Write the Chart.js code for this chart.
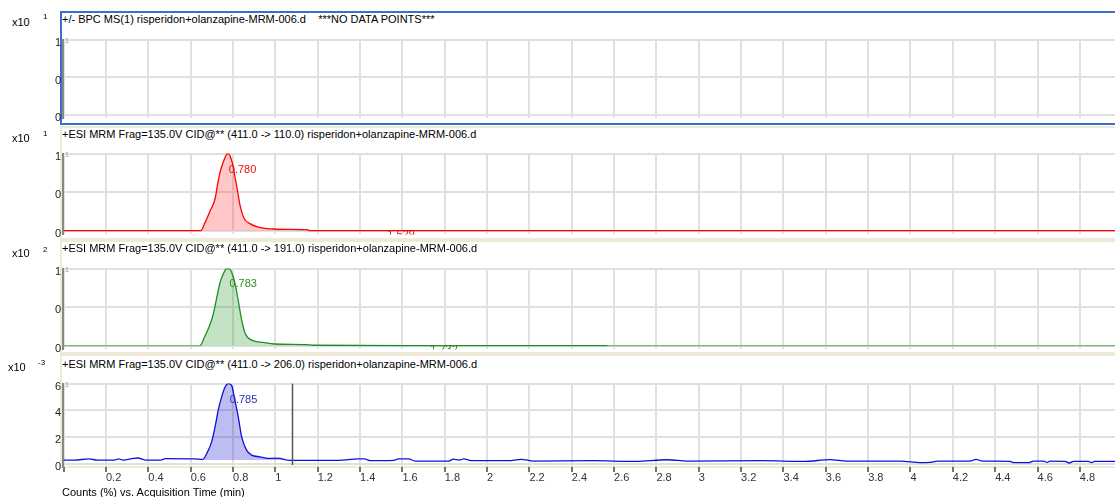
<!DOCTYPE html>
<html>
<head>
<meta charset="utf-8">
<script src="https://cdn.jsdelivr.net/npm/chart.js@4.4.1/dist/chart.umd.min.js"></script>
<style>
body { margin: 0; width: 1115px; height: 497px; background: #fff; position: relative; overflow: hidden;
       font-family: "Liberation Sans", Arial, sans-serif; color: #000; }
.box { position: absolute; left: 60px; width: 1070px; height: 114px; box-sizing: border-box;
       border: 2px solid #efe9d8; border-right: none; }
.sel { border-color: #3b6fcf; }
canvas { position: absolute; left: 0; z-index: 2; }
.txt { position: absolute; font-size: 11px; line-height: 12px; white-space: pre; z-index: 3; }
.exp { position: absolute; font-size: 8px; line-height: 10px; z-index: 3; }
.mark { position: absolute; left: 65px; font-size: 7px; line-height: 8px; color: #999; z-index: 3; }
</style>
</head>
<body>
<div class="box sel" style="top:11px"></div>
<div class="box" style="top:126px"></div>
<div class="box" style="top:240px"></div>
<div class="box" style="top:354px"></div>

<div class="txt" style="left:62px;top:13px">+/- BPC MS(1) risperidon+olanzapine-MRM-006.d    ***NO DATA POINTS***</div>
<div class="txt" style="left:62px;top:128px">+ESI MRM Frag=135.0V CID@** (411.0 -&gt; 110.0) risperidon+olanzapine-MRM-006.d</div>
<div class="txt" style="left:62px;top:242px">+ESI MRM Frag=135.0V CID@** (411.0 -&gt; 191.0) risperidon+olanzapine-MRM-006.d</div>
<div class="txt" style="left:62px;top:358px">+ESI MRM Frag=135.0V CID@** (411.0 -&gt; 206.0) risperidon+olanzapine-MRM-006.d</div>

<div class="txt" style="left:12px;top:16px">x10</div><div class="exp" style="left:43px;top:12px">1</div>
<div class="txt" style="left:12px;top:132px">x10</div><div class="exp" style="left:43px;top:129px">1</div>
<div class="txt" style="left:12px;top:247px">x10</div><div class="exp" style="left:43px;top:245px">2</div>
<div class="txt" style="left:8px;top:361px">x10</div><div class="exp" style="left:38px;top:358px">-3</div>

<div class="mark" style="top:37px">1</div>
<div class="mark" style="top:151px">1</div>
<div class="mark" style="top:266px">1</div>
<div class="mark" style="top:381px">1</div>

<canvas id="p1" width="1115" height="96" style="top:31px"></canvas>
<canvas id="p2" width="1115" height="98" style="top:145px"></canvas>
<canvas id="p3" width="1115" height="98" style="top:260px"></canvas>
<canvas id="p4" width="1115" height="116" style="top:375px"></canvas>

<div class="txt" style="left:62px;top:486px">Counts (%) vs. Acquisition Time (min)</div>

<script>
// acquisition time axis (min)
const xMin = -0.003;
const xMax = 4.966;
const timeTicks = [0, 0.2, 0.4, 0.6, 0.8, 1, 1.2, 1.4, 1.6, 1.8, 2, 2.2, 2.4, 2.6, 2.8,
                   3, 3.2, 3.4, 3.6, 3.8, 4, 4.2, 4.4, 4.6, 4.8];
const unitTicks = [0, 0.5, 1];
const blueTicks = [0, 2, 4, 6];

// 411.0 -> 110.0 (x10^1)
const redTime = [0, 0.648, 0.667, 0.691, 0.715, 0.726, 0.738, 0.754, 0.770, 0.778, 0.789, 0.801,
                 0.809, 0.820, 0.833, 0.852, 0.880, 0.919, 0.990, 1.05, 1.148, 1.163, 1.529, 4.966];
const redCounts = [0, 0, 0.10, 0.25, 0.41, 0.58, 0.75, 0.89, 0.99, 1.0, 0.95, 0.83,
                   0.70, 0.54, 0.33, 0.16, 0.09, 0.045, 0.02, 0.015, 0.012, 0, 0, 0];
const redPeaks = [0.780, 1.529];
const redPeakLevels = [0.79, -0.06];

// 411.0 -> 191.0 (x10^2)
const greenTime = [0, 0.644, 0.667, 0.691, 0.707, 0.723, 0.738, 0.754, 0.770, 0.781, 0.794, 0.809,
                   0.825, 0.841, 0.857, 0.888, 0.943, 0.998, 1.148, 1.179, 1.732, 2.57, 4.966];
const greenCounts = [0, 0, 0.12, 0.27, 0.41, 0.62, 0.81, 0.93, 1.0, 1.0, 0.95, 0.81,
                     0.58, 0.33, 0.16, 0.07, 0.04, 0.02, 0.012, 0.004, 0, 0, 0];
const greenPeaks = [0.783, 1.732];
const greenPeakLevels = [0.80, -0.055];

// 411.0 -> 206.0 (x10^-3)
const blueTime = [0, 0.05, 0.12, 0.16, 0.24, 0.26, 0.28, 0.33, 0.35, 0.39, 0.46, 0.48, 0.62,
                  0.657, 0.676, 0.699, 0.715, 0.730, 0.746, 0.762, 0.778, 0.794, 0.809, 0.825,
                  0.841, 0.864, 0.888, 0.927, 0.966, 0.998, 1.022, 1.053, 1.10, 1.30, 1.39,
                  1.42, 1.45, 1.56, 1.58, 1.63, 1.66, 1.82, 1.84, 1.87, 1.89, 1.93, 2.10,
                  2.16, 2.22, 2.50, 2.70, 2.85, 2.95, 3.30, 3.50, 3.62, 3.70, 3.95, 4.05,
                  4.09, 4.13, 4.28, 4.31, 4.34, 4.47, 4.49, 4.56, 4.58, 4.63, 4.645, 4.66,
                  4.73, 4.75, 4.77, 4.84, 4.855, 4.87, 4.966];
const blueCounts = [0.3, 0.3, 0.38, 0.3, 0.3, 0.38, 0.3, 0.42, 0.45, 0.3, 0.3, 0.4, 0.38,
                    0.35, 0.79, 1.65, 2.76, 4.0, 4.99, 5.73, 6.02, 5.85, 4.74, 3.5,
                    2.02, 1.04, 0.67, 0.54, 0.42, 0.44, 0.42, 0.30, 0.28, 0.28, 0.38,
                    0.38, 0.25, 0.28, 0.38, 0.38, 0.22, 0.22, 0.36, 0.3, 0.38, 0.25, 0.25,
                    0.35, 0.22, 0.25, 0.2, 0.32, 0.22, 0.25, 0.2, 0.33, 0.22, 0.22, 0.1,
                    0.12, 0.22, 0.22, 0.35, 0.22, 0.2, 0.1, 0.1, 0.22, 0.22, 0.12, 0.22,
                    0.2, 0.08, 0.2, 0.2, 0.1, 0.2, 0.2];
const bluePeaks = [0.785];
const bluePeakLevels = [4.8];
const cursorTime = 1.078;

const FONT = '"Liberation Sans", Arial, sans-serif';
const GRID = '#e0e0e0';

const toPoints = (xs, ys) => xs.map((t, i) => ({x: t, y: ys[i]}));

const peakLabels = {
    id: 'peakLabels',
    afterDatasetsDraw(chart, args, opts) {
        const {ctx, chartArea: a, scales: {x, y}} = chart;
        ctx.save();
        if (opts.cursor != null) {
            const cx = Math.round(x.getPixelForValue(opts.cursor)) + 0.5;
            ctx.strokeStyle = '#555';
            ctx.lineWidth = 1.5;
            ctx.beginPath();
            ctx.moveTo(cx, a.top);
            ctx.lineTo(cx, a.bottom - 2);
            ctx.stroke();
        }
        if (opts.times) {
            ctx.beginPath();
            ctx.rect(a.left, a.top - 8, a.right - a.left, a.bottom - a.top + 8);
            ctx.clip();
            ctx.font = '11px ' + FONT;
            ctx.fillStyle = opts.color;
            ctx.textBaseline = 'middle';
            opts.times.forEach((t, i) => {
                ctx.fillText(t.toFixed(3), x.getPixelForValue(t), y.getPixelForValue(opts.levels[i]));
            });
        }
        ctx.restore();
    }
};

function makePanel(id, datasets, yTicks, yMin, yMax, showTime, labels) {
    return new Chart(document.getElementById(id), {
        type: 'line',
        data: {datasets: datasets},
        plugins: [peakLabels],
        options: {
            responsive: false,
            animation: false,
            devicePixelRatio: 1,
            layout: {padding: {top: 8, bottom: showTime ? 0 : 6, left: 0, right: 0}},
            elements: {point: {radius: 0}, line: {borderWidth: 1.3, cubicInterpolationMode: 'monotone'}},
            plugins: {
                legend: {display: false},
                tooltip: {enabled: false},
                peakLabels: labels
            },
            scales: {
                x: {
                    type: 'linear',
                    min: xMin,
                    max: xMax,
                    afterBuildTicks: s => { s.ticks = timeTicks.map(v => ({value: v})); },
                    afterFit: s => { s.height = showTime ? 24 : 0; },
                    border: {display: false},
                    grid: {color: GRID, lineWidth: 2, drawTicks: showTime, tickLength: 5,
                           tickColor: '#444', tickWidth: 1.5},
                    ticks: {
                        display: showTime,
                        autoSkip: false,
                        maxRotation: 0,
                        align: 'start',
                        padding: -1,
                        color: '#333',
                        font: {family: FONT, size: 11},
                        callback: v => v === 0 ? '' : String(Math.round(v * 10) / 10)
                    }
                },
                y: {
                    min: yMin,
                    max: yMax,
                    afterBuildTicks: s => { s.ticks = yTicks.map(v => ({value: v})); },
                    afterFit: s => { s.width = 63; },
                    border: {display: true, color: '#888', width: 2},
                    grid: {color: GRID, lineWidth: 2, drawTicks: false},
                    ticks: {
                        padding: 2,
                        labelOffset: 3,
                        color: '#222',
                        font: {family: FONT, size: 11},
                        // the labels are clipped by the axis, only the first glyph shows
                        callback: v => String(v).charAt(0)
                    }
                }
            }
        }
    });
}

makePanel('p1', [], unitTicks, -0.04, 1, false, {});

makePanel('p2', [{
    data: toPoints(redTime, redCounts),
    borderColor: '#ff0000',
    backgroundColor: 'rgba(255,0,0,0.22)',
    fill: 'origin'
}], unitTicks, -0.05, 1, false, {times: redPeaks, levels: redPeakLevels, color: '#e81010'});

makePanel('p3', [{
    data: toPoints(greenTime, greenCounts),
    borderColor: '#1f8f1f',
    backgroundColor: 'rgba(0,128,0,0.23)',
    fill: 'origin',
    segment: {
        borderColor: c => (c.p0.parsed.x >= 0.64 && c.p1.parsed.x <= 2.57) ? '#1f8f1f' : '#74b874'
    }
}], unitTicks, -0.05, 1, false, {times: greenPeaks, levels: greenPeakLevels, color: '#2a8a2a'});

makePanel('p4', [{
    data: toPoints(blueTime, blueCounts),
    borderColor: '#1010d8',
    backgroundColor: 'rgba(0,0,205,0.26)',
    fill: {value: 0.3},
    segment: {
        backgroundColor: c => (c.p0.parsed.x >= 0.65 && c.p1.parsed.x <= 1.06) ? 'rgba(0,0,205,0.26)' : 'rgba(0,0,0,0)'
    }
}], blueTicks, -0.22, 6, true, {times: bluePeaks, levels: bluePeakLevels, color: '#3030c0', cursor: cursorTime});
</script>
</body>
</html>
